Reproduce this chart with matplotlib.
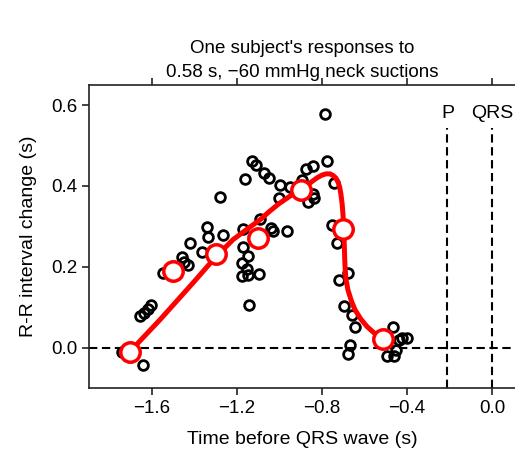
import numpy as np
import matplotlib.pyplot as plt

plt.rcParams['font.family'] = ['Liberation Sans', 'DejaVu Sans']

# individual responses (time before QRS, R-R change)
resp_t = [-1.741, -1.642, -1.656, -1.638, -1.619, -1.605, -1.548, -1.459, -1.449, -1.431,
          -1.421, -1.365, -1.341, -1.336, -1.280, -1.266, -1.172, -1.162, -1.129, -1.111,
          -1.073, -1.049, -0.998, -1.002, -1.092, -1.040, -1.031, -0.965, -1.172, -1.148,
          -1.176, -1.153, -1.176, -1.148, -1.096, -1.144, -0.951, -0.894, -0.875, -0.842,
          -0.786, -0.776, -0.744, -0.842, -0.838, -0.866, -0.753, -0.729, -0.678, -0.720,
          -0.696, -0.659, -0.645, -0.668, -0.678, -0.494, -0.461, -0.452, -0.438, -0.466,
          -0.424, -0.400]
resp_rr = [-0.012, -0.044, 0.077, 0.086, 0.096, 0.106, 0.185, 0.225, 0.212, 0.205,
           0.259, 0.237, 0.299, 0.274, 0.373, 0.279, 0.294, 0.417, 0.462, 0.452,
           0.432, 0.420, 0.402, 0.370, 0.319, 0.296, 0.289, 0.289, 0.249, 0.227,
           0.210, 0.195, 0.178, 0.180, 0.183, 0.106, 0.398, 0.415, 0.442, 0.449,
           0.578, 0.462, 0.407, 0.380, 0.370, 0.360, 0.304, 0.259, 0.185, 0.168,
           0.104, 0.081, 0.052, 0.007, -0.015, -0.020, -0.020, -0.005, 0.020, 0.052,
           0.025, 0.025]

# averaged responses
mean_t = [-1.704, -1.50, -1.30, -1.10, -0.90, -0.70, -0.513]
mean_rr = [-0.010, 0.190, 0.232, 0.272, 0.390, 0.294, 0.022]

# fitted curve
fit_t = [-1.704, -1.562, -1.407, -1.304, -1.219, -1.140, -1.092, -1.045, -0.998, -0.950,
         -0.904, -0.860, -0.824, -0.800, -0.781, -0.762, -0.748, -0.735, -0.725, -0.717,
         -0.711, -0.705, -0.701, -0.698, -0.696, -0.694, -0.692, -0.688, -0.678, -0.662,
         -0.645, -0.618, -0.588, -0.552, -0.513]
fit_rr = [-0.010, 0.069, 0.160, 0.222, 0.267, 0.298, 0.316, 0.338, 0.358, 0.375,
          0.390, 0.406, 0.420, 0.427, 0.430, 0.430, 0.426, 0.420, 0.410, 0.398,
          0.380, 0.355, 0.328, 0.300, 0.267, 0.236, 0.205, 0.172, 0.143, 0.116,
          0.094, 0.071, 0.052, 0.035, 0.022]

markers_x = [-0.21, 0.0]
markers_txt = ['P', 'QRS']

fig = plt.figure(figsize=(5.15, 4.5), dpi=100)
ax = fig.add_axes([89 / 515, 62 / 450, 1 - 89 / 515, 303 / 450])

ax.axhline(0, color='black', lw=1.5, ls=(0, (4, 2.2)), zorder=1)
for xm, txt in zip(markers_x, markers_txt):
    ax.plot([xm, xm], [-0.1, 0.543], color='black', lw=1.5, ls=(0, (4, 2.2)), zorder=1)
    ax.text(xm, 0.58, txt, ha='center', va='center', fontsize=14)

ax.plot(resp_t, resp_rr, 'o', ms=7, mfc='none', mec='black', mew=2.0, zorder=2)
ax.plot(fit_t, fit_rr, color='#ff0000', lw=3.6, solid_capstyle='round', zorder=3)
ax.plot(mean_t, mean_rr, 'o', ms=14, mfc='white', mec='#ff0000', mew=2.5, zorder=4)

ax.set_xlim(-1.896, 0.108)
ax.set_ylim(-0.1, 0.65)
ax.set_xticks([-1.6, -1.2, -0.8, -0.4, 0.0])
ax.set_xticklabels(['\u22121.6', '\u22121.2', '\u22120.8', '\u22120.4', '0.0'])
ax.set_yticks([0.0, 0.2, 0.4, 0.6])
ax.tick_params(direction='out', length=5, width=1.2, labelsize=13.5, top=True, colors='#222222')
ax.tick_params(labelcolor='black')
ax.spines['right'].set_visible(False)
for s in ['left', 'bottom', 'top']:
    ax.spines[s].set_linewidth(1.2)
    ax.spines[s].set_color('#222222')

ax.set_xlabel('Time before QRS wave (s)', fontsize=14, labelpad=10)
ax.set_ylabel('R-R interval change (s)', fontsize=14, labelpad=10)
ax.set_title("One subject's responses to\n0.58 s, \u221260 mmHg neck suctions",
             fontsize=13.5, pad=6, linespacing=1.5)

fig.savefig('out.png', dpi=100)
